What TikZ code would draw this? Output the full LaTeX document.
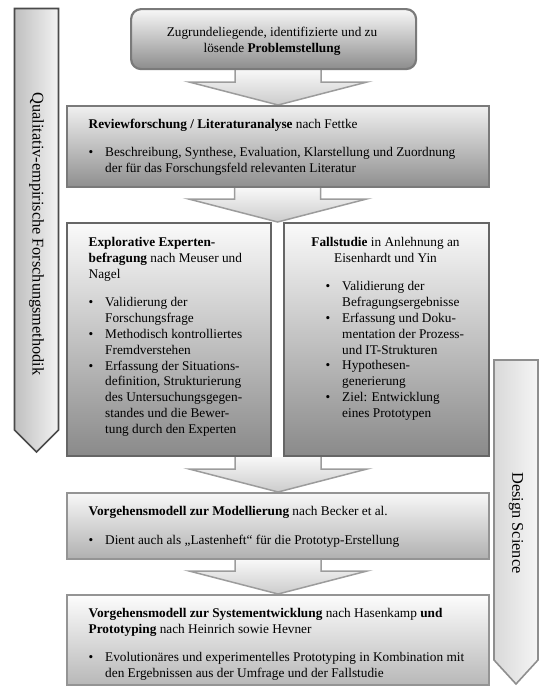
\documentclass[tikz,border=0pt]{standalone}
\usepackage{fontspec}
\setmainfont{Liberation Serif}
\usetikzlibrary{calc,backgrounds}
\definecolor{boxline}{HTML}{7A7A7A}
\definecolor{arrline}{HTML}{9C9C9C}
\definecolor{sideline}{HTML}{4A4A4A}
\definecolor{sideline2}{HTML}{8E8E8E}
\newcommand\bl{\makebox[16.5pt][l]{\textbullet}}
\newcommand\ind{\hspace*{16.5pt}}
\newcommand\barrow[2]{%
  \path[barrowfill] let \p1=(#1), \p2=(#2) in
    (\x2-43pt,\y1) -- (\x2-43pt,\y2+23pt) -- (\x2-89pt,\y2+23pt) -- (\x2,\y2)
    -- (\x2+89pt,\y2+23pt) -- (\x2+43pt,\y2+23pt) -- (\x2+43pt,\y1) -- cycle;
  \draw[barrowline] let \p1=(#1), \p2=(#2) in
    (\x2-43pt,\y1) -- (\x2-43pt,\y2+23pt) -- (\x2-89pt,\y2+23pt) -- (\x2,\y2)
    -- (\x2+89pt,\y2+23pt) -- (\x2+43pt,\y2+23pt) -- (\x2+43pt,\y1);}
\tikzset{
  box/.style={draw=boxline, line width=2.2pt, inner sep=0pt, anchor=north west},
  txt/.style={inner sep=0pt, font=\fontsize{13.3}{15.8}\selectfont, align=left, anchor=north west},
  sidelabel/.style={inner sep=0pt, font=\fontsize{16.3}{19}\selectfont, rotate=-90},
  barrowfill/.style={top color=black!3, bottom color=black!20},
  barrowline/.style={draw=arrline, line width=1.5pt, line join=miter},
}
\begin{document}
\begin{tikzpicture}[x=1pt,y=-1pt]
\useasboundingbox (0,0) rectangle (539,686);
% side arrows
\draw[sideline, line width=1.6pt, left color=black!25, right color=black!5]
  (14.5,8.5) -- (58.5,8.5) -- (58.5,430) -- (36.5,452) -- (14.5,430) -- cycle;
\node[sidelabel] (ql) at (36.5,234) {Qualitativ-empirische Forschungsmethodik};
\draw[sideline2, line width=1.6pt, left color=black!15, right color=black!4]
  (494,360) -- (538,360) -- (538,660) -- (516,684) -- (494,660) -- cycle;
\node[sidelabel] (ds) at (516,523) {Design Science};
% boxes
\node[box, rounded corners=10pt, top color=black!3, bottom color=black!45,
  minimum width=285pt, minimum height=60pt] (top) at (130,8) {};
\node[box, top color=black!6, bottom color=black!44,
  minimum width=422pt, minimum height=81pt] (rev) at (66,105) {};
\node[box, draw=black!60, top color=black!2, bottom color=black!46,
  minimum width=204pt, minimum height=233pt] (left) at (66,222) {};
\node[box, draw=black!60, top color=black!2, bottom color=black!46,
  minimum width=205pt, minimum height=233pt] (right) at (283,222) {};
\node[box, draw=black!42, top color=black!3, bottom color=black!31,
  minimum width=422pt, minimum height=66pt] (m4) at (66,492) {};
\node[box, draw=black!42, top color=black!1, bottom color=black!28,
  minimum width=422pt, minimum height=90pt] (m5) at (66,594) {};
\coordinate (rowtop) at ($(left.north east)!0.5!(right.north west)$);
\coordinate (rowbot) at ($(left.south east)!0.5!(right.south west)$);
% block arrows
\begin{scope}[on background layer]
\barrow{top.south}{rev.north}
\barrow{rev.south}{rowtop}
\barrow{rowbot}{m4.north}
\barrow{m4.south}{m5.north}
\end{scope}
% texts
\node[txt, anchor=north, align=center] (ttop) at (272,27)
  {Zugrundeliegende, identifizierte und zu\\lösende \textbf{Problemstellung}};
\node[txt] (trev) at (88.5,118.5)
  {\textbf{Reviewforschung / Literaturanalyse} nach Fettke\\[12.5pt]
   \bl Beschreibung, Synthese, Evaluation, Klarstellung und Zuordnung\\
   \ind der für das Forschungsfeld relevanten Literatur};
\node[txt] (tleft) at (88.5,237.5)
  {\textbf{Explorative Experten-}\\\textbf{befragung} nach Meuser und\\Nagel\\[12.5pt]
   \bl Validierung der\\\ind Forschungsfrage\\
   \bl Methodisch kontrolliertes\\\ind Fremdverstehen\\
   \bl Erfassung der Situations-\\\ind definition, Strukturierung\\
   \ind des Untersuchungsgegen-\\\ind standes und die Bewer-\\
   \ind tung durch den Experten};
\node[txt, anchor=north, align=center] (tright) at (385.5,237.5)
  {\textbf{Fallstudie} in Anlehnung an\\Eisenhardt und Yin};
\node[txt] (tright2) at (325.5,281.5)
  {\bl Validierung der\\\ind Befragungsergebnisse\\
   \bl Erfassung und Doku-\\\ind mentation der Prozess-\\\ind und IT-Strukturen\\
   \bl Hypothesen-\\\ind generierung\\
   \bl Ziel: Entwicklung\\\ind eines Prototypen};
\node[txt] (tm4) at (88.5,506.5)
  {\textbf{Vorgehensmodell zur Modellierung} nach Becker et al.\\[12.5pt]
   \bl Dient auch als „Lastenheft“ für die Prototyp-Erstellung};
\node[txt] (tm5) at (88.5,608)
  {\textbf{Vorgehensmodell zur Systementwicklung} nach Hasenkamp \textbf{und}\\
   \textbf{Prototyping} nach Heinrich sowie Hevner\\[12.5pt]
   \bl Evolutionäres und experimentelles Prototyping in Kombination mit\\
   \ind den Ergebnissen aus der Umfrage und der Fallstudie};
\end{tikzpicture}
\end{document}
